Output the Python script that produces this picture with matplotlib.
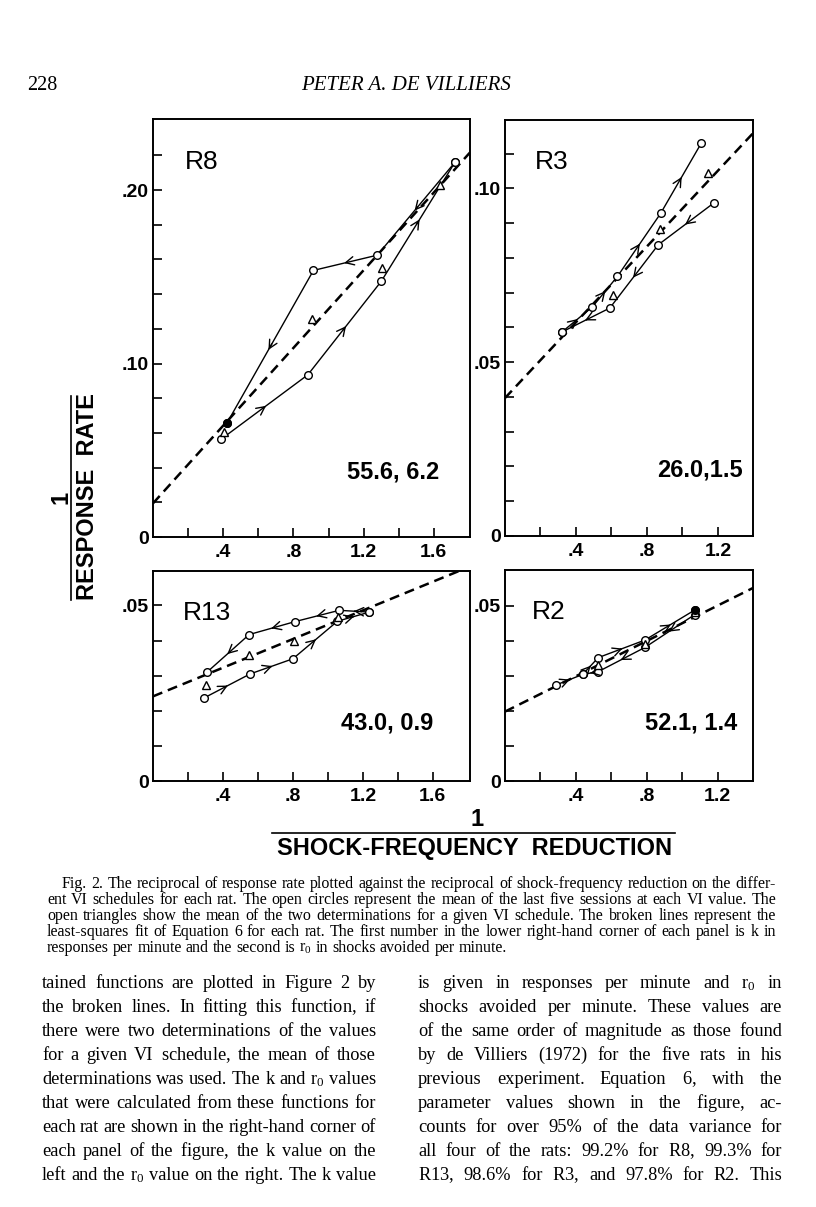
import matplotlib
matplotlib.use('Agg')
import matplotlib.pyplot as plt

plt.rcParams['font.family'] = 'Liberation Sans'
plt.rcParams['mathtext.fontset'] = 'custom'
plt.rcParams['mathtext.rm'] = 'Liberation Serif'
plt.rcParams['mathtext.it'] = 'Liberation Serif:italic'

W, H = 816, 1207

# ---- data (x = 1/shock-frequency reduction, y = 1/response rate)
r8_up_x = [0.387, 0.882, 1.301, 1.720]
r8_up_y = [0.0563, 0.0935, 0.1475, 0.2160]
r8_down_x = [1.720, 1.278, 0.914, 0.421]
r8_down_y = [0.2160, 0.1625, 0.1537, 0.0656]
r8_tri_x = [0.402, 0.905, 1.305, 1.634]
r8_tri_y = [0.0608, 0.1256, 0.1550, 0.2030]
r8_fit_x = [0.0, 1.806]
r8_fit_y = [0.0194, 0.2217]

r3_up_x = [0.321, 0.492, 0.634, 0.877, 1.106]
r3_up_y = [0.0587, 0.0659, 0.0747, 0.0928, 0.1130]
r3_down_x = [1.179, 0.864, 0.591, 0.321]
r3_down_y = [0.0959, 0.0838, 0.0656, 0.0587]
r3_tri_x = [0.609, 0.874, 1.142]
r3_tri_y = [0.0694, 0.0882, 0.1045]
r3_fit_x = [0.0, 1.40]
r3_fit_y = [0.0397, 0.1160]

r13_up_x = [0.290, 0.556, 0.800, 1.055, 1.238]
r13_up_y = [0.0236, 0.0305, 0.0348, 0.0455, 0.0481]
r13_down_x = [1.238, 1.065, 0.813, 0.550, 0.309]
r13_down_y = [0.0481, 0.0486, 0.0454, 0.0417, 0.0310]
r13_tri_x = [0.303, 0.550, 0.804, 1.057]
r13_tri_y = [0.0273, 0.0358, 0.0400, 0.0467]
r13_fit_x = [0.0, 1.76]
r13_fit_y = [0.0241, 0.0600]

r2_up_x = [0.288, 0.438, 0.526, 0.789, 1.071]
r2_up_y = [0.0274, 0.0304, 0.0352, 0.0402, 0.0488]
r2_down_x = [1.071, 0.789, 0.526, 0.438]
r2_down_y = [0.0475, 0.0381, 0.0312, 0.0304]
r2_tri_x = [0.526, 0.789, 1.071]
r2_tri_y = [0.0332, 0.0392, 0.0482]
r2_fit_x = [0.0, 1.40]
r2_fit_y = [0.0198, 0.0551]

# filled-looking points in the scan
r8_solid = ([0.421], [0.0656])
r2_solid = ([1.071], [0.0488])

params = {'R8': '55.6, 6.2', 'R3': '26.0,1.5', 'R13': '43.0, 0.9', 'R2': '52.1, 1.4'}

caption = [
    "Fig. 2. The reciprocal of response rate plotted against the reciprocal of shock-frequency reduction on the differ-",
    "ent VI schedules for each rat. The open circles represent the mean of the last five sessions at each VI value. The",
    "open triangles show the mean of the two determinations for a given VI schedule. The broken lines represent the",
    "least-squares fit of Equation 6 for each rat. The first number in the lower right-hand corner of each panel is k in",
    "responses per minute and the second is r$_0$ in shocks avoided per minute.",
]
body_left = [
    "tained functions are plotted in Figure 2 by",
    "the broken lines. In fitting this function, if",
    "there were two determinations of the values",
    "for a given VI schedule, the mean of those",
    "determinations was used. The k and r$_0$ values",
    "that were calculated from these functions for",
    "each rat are shown in the right-hand corner of",
    "each panel of the figure, the k value on the",
    "left and the r$_0$ value on the right. The k value",
]
body_right = [
    "is given in responses per minute and r$_0$ in",
    "shocks avoided per minute. These values are",
    "of the same order of magnitude as those found",
    "by de Villiers (1972) for the five rats in his",
    "previous experiment. Equation 6, with the",
    "parameter values shown in the figure, ac-",
    "counts for over 95% of the data variance for",
    "all four of the rats: 99.2% for R8, 99.3% for",
    "R13, 98.6% for R3, and 97.8% for R2. This",
]


def fx(px):
    return px / W


def fy(py):
    return 1 - py / H


fig = plt.figure(figsize=(W / 100, H / 100), dpi=100)
renderer = fig.canvas.get_renderer()


def panel(rect_px, xmax, ymax, ystep, ylabels, xlabels, up, down, tri, fit, name, solid=None,
          name_pos=(0.1, 0.9), par_pos=(0.75, 0.16)):
    l, t, r, b = rect_px
    ax = fig.add_axes([fx(l), fy(b), (r - l) / W, (b - t) / H])
    ax.set_xlim(0, xmax)
    ax.set_ylim(0, ymax)
    ax.plot(fit[0], fit[1], color='black', lw=1.8, dashes=(4, 2.4), zorder=2)
    for px_, py_ in (up, down):
        ax.plot(px_, py_, color='black', lw=1.0, marker='o', ms=5.5, mfc='white',
                mec='black', mew=1.0, zorder=3)
        for i in range(len(px_) - 1):
            x0, y0, x1, y1 = px_[i], py_[i], px_[i + 1], py_[i + 1]
            mx, my = (x0 + x1) / 2, (y0 + y1) / 2
            ax.annotate('', xy=(mx + 0.02 * (x1 - x0), my + 0.02 * (y1 - y0)),
                        xytext=(mx - 0.02 * (x1 - x0), my - 0.02 * (y1 - y0)),
                        arrowprops=dict(arrowstyle='->', lw=1.0, color='black',
                                        mutation_scale=15, shrinkA=0, shrinkB=0),
                        zorder=4)
    ax.plot(tri[0], tri[1], ls='none', marker='^', ms=6, mfc='white', mec='black',
            mew=1.0, zorder=5)
    if solid is not None:
        ax.plot(solid[0], solid[1], ls='none', marker='o', ms=5.5, color='black', zorder=6)

    yt = [round(i * ystep, 4) for i in range(int(ymax / ystep + 1e-6) + 1)]
    yt = [v for v in yt if v < ymax - 0.3 * ystep]
    ax.set_yticks(yt)
    ax.set_yticklabels([ylabels.get(round(v, 4), '') for v in yt])
    xt = [round(i * 0.2, 2) for i in range(1, int(xmax / 0.2 + 1e-6) + 1)]
    xt = [v for v in xt if v < xmax - 0.05]
    ax.set_xticks(xt)
    ax.set_xticklabels([xlabels.get(round(v, 2), '') for v in xt])
    ax.tick_params(direction='in', length=6.5, width=1.2, labelsize=14, pad=3)
    ax.tick_params(axis='x', pad=5)
    for lab in ax.get_xticklabels() + ax.get_yticklabels():
        lab.set_fontweight('bold')
    for s in ax.spines.values():
        s.set_linewidth(1.4)
    ax.text(name_pos[0], name_pos[1], name, transform=ax.transAxes, fontsize=19,
            ha='left', va='center')
    ax.text(par_pos[0], par_pos[1], params[name], transform=ax.transAxes, fontsize=17,
            fontweight='bold', ha='center', va='center')
    return ax


xl_wide = {0.4: '.4', 0.8: '.8', 1.2: '1.2', 1.6: '1.6'}
xl_narrow = {0.4: '.4', 0.8: '.8', 1.2: '1.2'}

panel((153, 119, 470, 537), 1.806, 0.241, 0.02, {0.0: '0', 0.1: '.10', 0.2: '.20'}, xl_wide,
      (r8_up_x, r8_up_y), (r8_down_x, r8_down_y), (r8_tri_x, r8_tri_y), (r8_fit_x, r8_fit_y),
      'R8', solid=r8_solid, name_pos=(0.101, 0.897), par_pos=(0.757, 0.155))
panel((505, 120, 753, 536), 1.398, 0.1197, 0.01, {0.0: '0', 0.05: '.05', 0.1: '.10'}, xl_narrow,
      (r3_up_x, r3_up_y), (r3_down_x, r3_down_y), (r3_tri_x, r3_tri_y), (r3_fit_x, r3_fit_y),
      'R3', name_pos=(0.121, 0.899), par_pos=(0.786, 0.159))
panel((153, 571, 470, 781), 1.813, 0.0598, 0.01, {0.0: '0', 0.05: '.05'}, xl_wide,
      (r13_up_x, r13_up_y), (r13_down_x, r13_down_y), (r13_tri_x, r13_tri_y),
      (r13_fit_x, r13_fit_y), 'R13', name_pos=(0.095, 0.80), par_pos=(0.738, 0.276))
panel((505, 570, 753, 781), 1.399, 0.0602, 0.01, {0.0: '0', 0.05: '.05'}, xl_narrow,
      (r2_up_x, r2_up_y), (r2_down_x, r2_down_y), (r2_tri_x, r2_tri_y), (r2_fit_x, r2_fit_y),
      'R2', solid=r2_solid, name_pos=(0.109, 0.80), par_pos=(0.75, 0.275))

# axis titles drawn as fractions
fig.text(fx(61), fy(497), '1', rotation=90, fontsize=17, fontweight='bold', ha='center', va='center')
fig.add_artist(plt.Line2D([fx(71), fx(71)], [fy(396), fy(600)], color='black', lw=1.2))
fig.text(fx(88), fy(497), 'RESPONSE  RATE', rotation=90, fontsize=17, fontweight='bold',
         ha='center', va='center')
fig.text(fx(477), fy(820), '1', fontsize=17, fontweight='bold', ha='center', va='center')
fig.add_artist(plt.Line2D([fx(272), fx(675)], [fy(833), fy(833)], color='black', lw=1.2))
fig.text(fx(475), fy(848), 'SHOCK-FREQUENCY  REDUCTION', fontsize=17, fontweight='bold',
         ha='center', va='center')

# page header
fig.text(fx(27), fy(90), '228', family='Liberation Serif', fontsize=14.5, ha='left', va='baseline')
fig.text(fx(406), fy(90), 'PETER A. DE VILLIERS', family='Liberation Serif', style='italic',
         fontsize=15, ha='center', va='baseline')


def prep(word):
    # words whose only descender is a comma sit low as plain text; mathtext keeps the baseline
    if ',' in word and '$' not in word:
        return r'$\mathrm{' + word.replace('%', r'\%') + '}$'
    return word


def natural_width(words, size):
    tot = 0
    for w in words:
        t = fig.text(0, 0, prep(w), family='Liberation Serif', fontsize=size)
        tot += t.get_window_extent(renderer).width
        t.remove()
    sp = fig.text(0, 0, 'a a', family='Liberation Serif', fontsize=size)
    nb = fig.text(0, 0, 'aa', family='Liberation Serif', fontsize=size)
    space = sp.get_window_extent(renderer).width - nb.get_window_extent(renderer).width
    sp.remove()
    nb.remove()
    return tot + space * (len(words) - 1), space


def fit_size(lines, x0, x1, indent0=0, size0=12):
    best = None
    for i, ln in enumerate(lines):
        words = ln.split(' ')
        wd, _ = natural_width(words, size0)
        avail = x1 - x0 - (indent0 if i == 0 else 0)
        ratio = wd / avail
        best = ratio if best is None else max(best, ratio)
    return size0 / best


def block(lines, x0, x1, y0, dy, size, indent0=0, justify_last=True):
    _, space = natural_width(['a'], size)
    for i, ln in enumerate(lines):
        words = ln.split(' ')
        y = fy(y0 + i * dy)
        start = x0 + (indent0 if i == 0 else 0)
        texts = [fig.text(0, y, prep(w), family='Liberation Serif', fontsize=size, va='baseline')
                 for w in words]
        widths = [t.get_window_extent(renderer).width for t in texts]
        if (i < len(lines) - 1 or justify_last) and len(words) > 1:
            gap = (x1 - start - sum(widths)) / (len(words) - 1)
        else:
            gap = space
        x = start
        for t, wd in zip(texts, widths):
            t.set_x(fx(x))
            x += wd + gap


cap_size = fit_size(caption[:4], 47, 776, indent0=15)
block(caption, 47, 776, 888, 16, cap_size, indent0=15, justify_last=False)
body_size = fit_size(body_left + body_right, 0, 340)
block(body_left, 42, 376, 988, 24, body_size)
block(body_right, 418, 782, 988, 24, body_size)

plt.savefig('out.png', dpi=100)
